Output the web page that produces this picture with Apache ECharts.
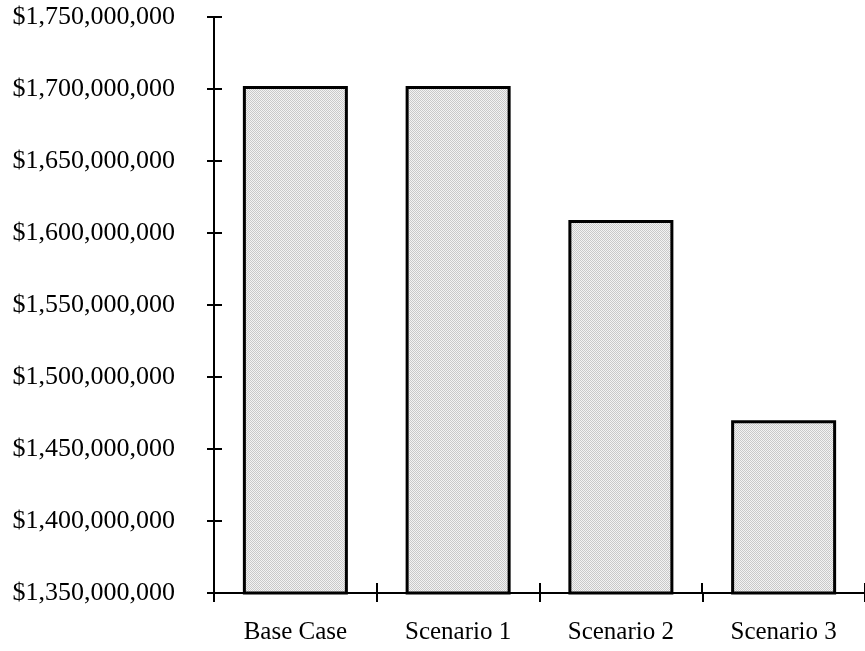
<!DOCTYPE html>
<html>
<head>
<meta charset="utf-8">
<script src="https://cdn.jsdelivr.net/npm/echarts@6/dist/echarts.min.js"></script>
<style>
  html, body { margin: 0; padding: 0; background: #ffffff; }
  #chart { width: 865px; height: 651px; }
</style>
</head>
<body>
<div id="chart"></div>
<script>
// Scenario totals (dollars)
const categories = ['Base Case', 'Scenario 1', 'Scenario 2', 'Scenario 3'];
const totals = [1702000000, 1702000000, 1609000000, 1470000000];
const axisMin = 1350000000;
const axisMax = 1750000000;
const axisStep = 50000000;

// plot area geometry
const plotLeft = 214, plotTop = 17, plotWidth = 655, plotHeight = 576;

// fine stipple fill for the bars
function stipple() {
  const c = document.createElement('canvas');
  c.width = 2; c.height = 2;
  const g = c.getContext('2d');
  g.fillStyle = '#f3f3f3'; g.fillRect(0, 0, 2, 2);
  g.fillStyle = '#c9c9c9';
  g.fillRect(0, 0, 1, 1); g.fillRect(1, 1, 1, 1);
  return c;
}

function money(v) {
  return '$' + Math.round(v).toString().replace(/\B(?=(\d{3})+(?!\d))/g, ',');
}

const serif = 'Liberation Serif';
const line = { lineStyle: { color: '#000', width: 2 } };

const chart = echarts.init(document.getElementById('chart'));
chart.setOption({
  animation: false,
  grid: { left: plotLeft, top: plotTop, width: plotWidth, height: plotHeight, containLabel: false },
  xAxis: {
    type: 'category', data: categories, position: 'bottom',
    axisLine: { show: true, ...line },
    axisTick: { show: true, length: 9, ...line },
    axisLabel: { fontFamily: serif, fontSize: 25, color: '#000', margin: 27 },
    splitLine: { show: false }
  },
  yAxis: {
    type: 'value', min: axisMin, max: axisMax, interval: axisStep, position: 'left',
    axisLine: { show: true, ...line },
    axisTick: { show: true, length: 7, ...line },
    axisLabel: { fontFamily: serif, fontSize: 26, color: '#000', margin: 39, formatter: money },
    splitLine: { show: false }
  },
  series: [{
    type: 'bar',
    data: totals,
    barWidth: 105,
    itemStyle: {
      color: { image: stipple(), repeat: 'repeat' },
      borderColor: '#000',
      borderWidth: 3
    }
  }]
});

// Inner halves of the ticks, so every tick crosses its axis line.
// Positions come from the chart's own axis scales.
const innerTicks = [];
const c0 = chart.convertToPixel({ xAxisIndex: 0 }, 0);
const band = chart.convertToPixel({ xAxisIndex: 0 }, 1) - c0;
const axisX = Math.round(c0 - band / 2);
const baseY = chart.convertToPixel({ yAxisIndex: 0 }, axisMin);
for (let v = axisMin; v <= axisMax; v += axisStep) {
  const y = Math.round(chart.convertToPixel({ yAxisIndex: 0 }, v));
  innerTicks.push({
    type: 'line', z: 100,
    shape: { x1: axisX, y1: y, x2: axisX + 8, y2: y },
    style: { stroke: '#000', lineWidth: 2 }
  });
}
for (let i = 0; i <= categories.length; i++) {
  const x = Math.round(c0 - band / 2 + i * band);
  innerTicks.push({
    type: 'line', z: 100,
    shape: { x1: x, y1: baseY, x2: x, y2: baseY - 10 },
    style: { stroke: '#000', lineWidth: 2 }
  });
}
chart.setOption({ graphic: innerTicks });
</script>
</body>
</html>
